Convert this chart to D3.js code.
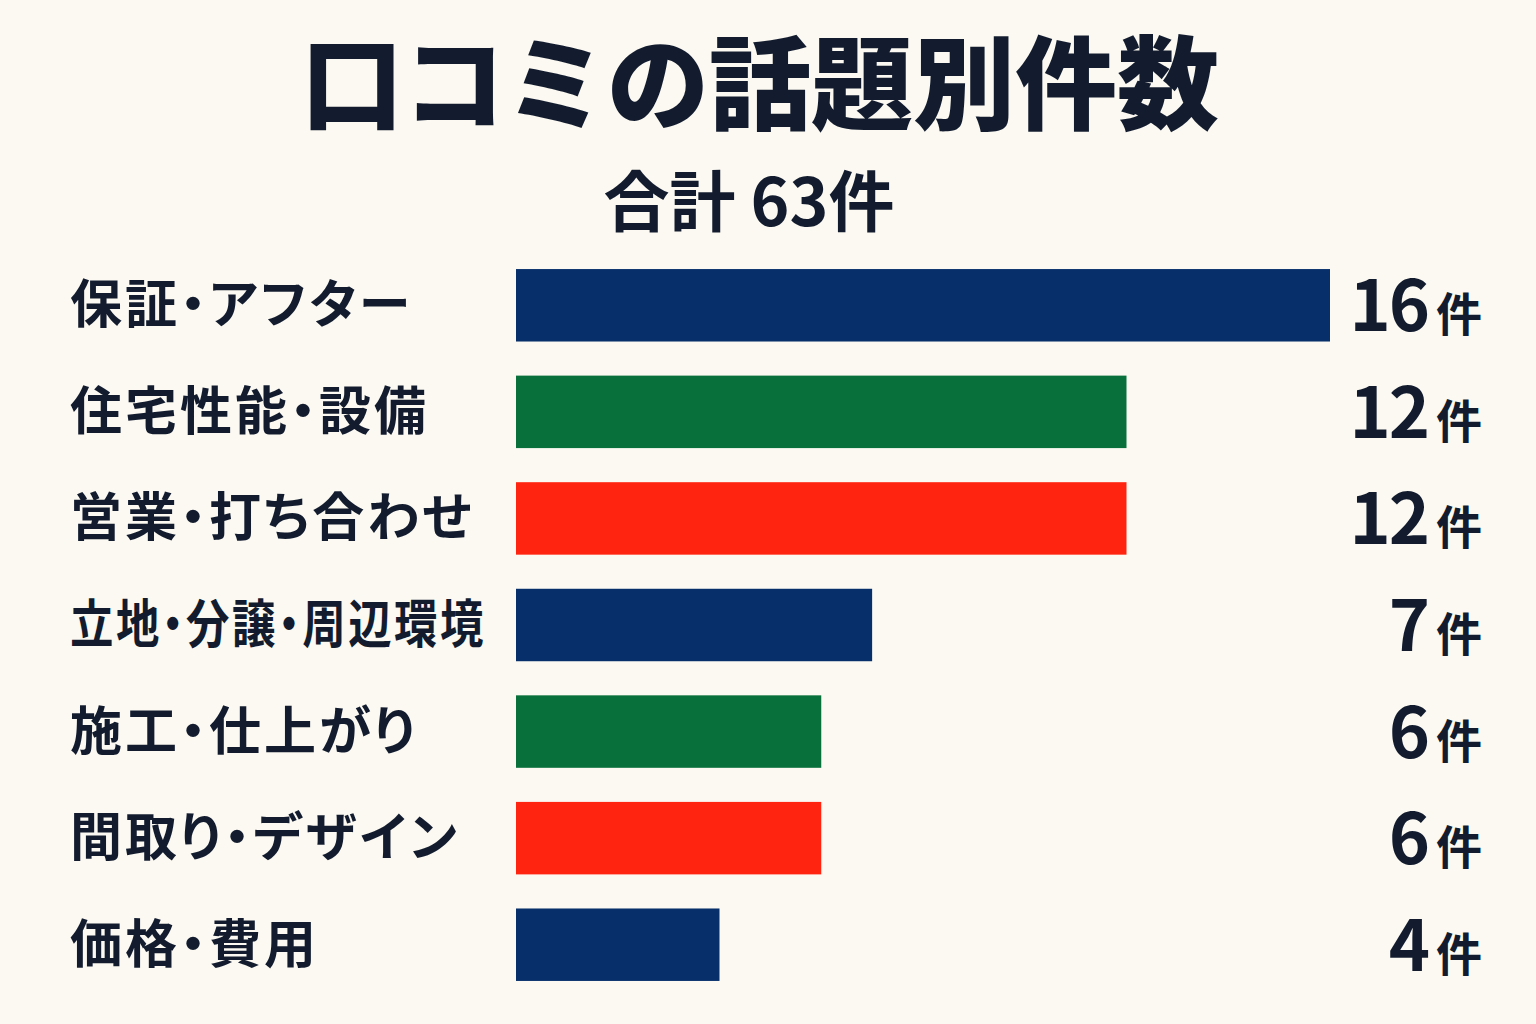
<!DOCTYPE html>
<html lang="ja">
<head>
<meta charset="UTF-8">
<title>口コミの話題別件数</title>
<script src="https://d3js.org/d3.v7.min.js"></script>
<style>
  html, body { margin: 0; padding: 0; background: #fcf9f2; }
  svg { display: block; }
  text { font-family: "Noto Sans CJK JP", "Noto Sans", sans-serif; fill: #121c2e; }
  .lbl { font-feature-settings: "palt"; }
</style>
</head>
<body>
<script>
// data
var topics = ["保証・アフター", "住宅性能・設備", "営業・打ち合わせ", "立地・分譲・周辺環境", "施工・仕上がり", "間取り・デザイン", "価格・費用"];
var counts = [16, 12, 12, 7, 6, 6, 4];
var barColors = ["#07306b", "#08703a", "#ff2410", "#07306b", "#08703a", "#ff2410", "#07306b"];
var title = "口コミの話題別件数";
var subtitle = "合計 63件";
var unit = "件";

var rows = [];
for (var i = 0; i < topics.length; i++) {
  rows.push({topic: topics[i], n: counts[i], color: barColors[i]});
}

var W = 1536, H = 1024;
var labelMax = 416; // labels must stay left of the bars

var svg = d3.select("body").append("svg")
  .attr("width", W)
  .attr("height", H);

svg.append("rect").attr("width", W).attr("height", H).attr("fill", "#fcf9f2");

var x = d3.scaleLinear().domain([0, d3.max(counts)]).range([516, 1330]);
var y = d3.scaleBand().domain(topics).range([252, 998]).paddingInner(0.32).paddingOuter(0.16);

// title + total
svg.append("text")
  .attr("x", 760).attr("y", 122)
  .attr("text-anchor", "middle")
  .attr("font-size", 102)
  .attr("font-weight", 900)
  .text(title);

svg.append("text")
  .attr("x", 749).attr("y", 226)
  .attr("text-anchor", "middle")
  .attr("font-size", 66)
  .attr("font-weight", 700)
  .text(subtitle);

// bars
svg.selectAll("rect.bar")
  .data(rows)
  .enter()
  .append("rect")
  .attr("class", "bar")
  .attr("x", x(0))
  .attr("y", function(d) { return y(d.topic); })
  .attr("width", function(d) { return x(d.n) - x(0); })
  .attr("height", y.bandwidth())
  .attr("fill", function(d) { return d.color; });

// category labels
svg.selectAll("text.lbl")
  .data(rows)
  .enter()
  .append("text")
  .attr("class", "lbl")
  .attr("x", 70)
  .attr("y", function(d) { return y(d.topic) + y.bandwidth() / 2; })
  .attr("dy", 18)
  .attr("font-size", 52)
  .attr("font-weight", 700)
  .attr("letter-spacing", 3)
  .text(function(d) { return d.topic; })
  .each(function() {
    // squeeze long labels so they don't run into the bars
    var len = this.getComputedTextLength();
    if (len > labelMax) {
      d3.select(this).attr("textLength", labelMax).attr("lengthAdjust", "spacingAndGlyphs");
    }
  });

// value labels
var vals = svg.selectAll("text.val")
  .data(rows)
  .enter()
  .append("text")
  .attr("class", "val")
  .attr("x", 1482)
  .attr("y", function(d) { return y(d.topic) + y.bandwidth() / 2; })
  .attr("dy", 26)
  .attr("text-anchor", "end")
  .attr("font-weight", 700);

vals.append("tspan")
  .attr("font-size", 70)
  .attr("letter-spacing", -2)
  .text(function(d) { return d.n; });

vals.append("tspan")
  .attr("font-size", 46)
  .attr("dx", 8)
  .text(unit);
</script>
</body>
</html>
